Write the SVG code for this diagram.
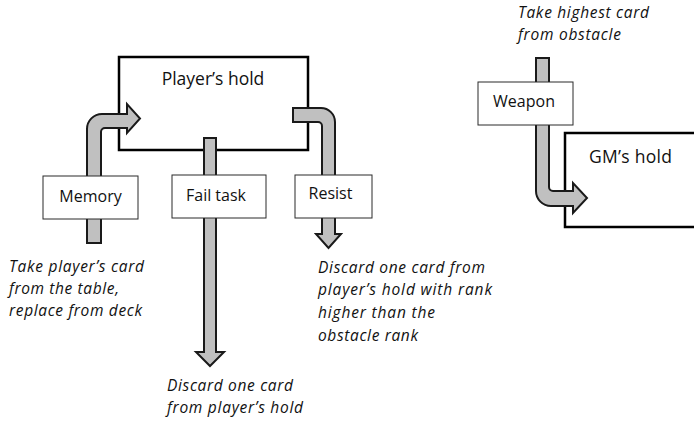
<svg xmlns="http://www.w3.org/2000/svg" width="694" height="422" viewBox="0 0 694 422">
  <style>
    .hold { fill: #ffffff; stroke: #000000; stroke-width: 2.5; }
    .card { fill: #ffffff; stroke: #2b2b2b; stroke-width: 1; }
    .flow { fill: #c0c0c0; stroke: #1a1a1a; stroke-width: 2; stroke-linejoin: miter; }
    .label { font-family: "Open Sans", "Liberation Sans", sans-serif; font-size: 16px; fill: #111111; }
    .title { font-family: "Open Sans", "Liberation Sans", sans-serif; font-size: 17.5px; fill: #111111; }
    .note { font-family: "Open Sans", "Liberation Sans", sans-serif; font-size: 15.5px; font-style: italic; fill: #111111; }
  </style>

  <g id="players-hold">
    <rect class="hold" x="119" y="57" width="189" height="93"/>
    <text class="title" x="213" y="85" text-anchor="middle">Player’s hold</text>
  </g>

  <g id="gms-hold">
    <rect class="hold" x="565" y="133" width="140" height="94"/>
    <text class="title" x="589" y="163" textLength="83">GM’s hold</text>
  </g>

  <g id="connectors">
    <!-- Memory: up from the table, bending right into the player's hold -->
    <path class="flow" d="M87,243 V129 A15,15 0 0 1 102,114 H127 V104 L140,118.5 L127,133 V128 H105 A4,4 0 0 0 101,132 V243 Z"/>
    <!-- Fail task: straight down out of the player's hold -->
    <path class="flow" d="M204,138 H216 V352 H224 L210,366 L196,352 H204 Z"/>
    <!-- Resist: out of the player's hold, bending down -->
    <path class="flow" d="M293,108 H321 A14,14 0 0 1 335,122 V234 H341 L328.5,248 L316,234 H322 V126 A4,4 0 0 0 318,122 H293 Z"/>
    <!-- Weapon: from the obstacle, down and right into the GM's hold -->
    <path class="flow" d="M536,58 H549 V187 A4,4 0 0 0 553,191 H573 V183 L587,198 L573,213 V206 H551 A15,15 0 0 1 536,191 Z"/>
  </g>

  <g id="memory">
    <rect class="card" x="43" y="176" width="95" height="43"/>
    <text class="label" x="90.5" y="202" text-anchor="middle">Memory</text>
  </g>

  <g id="fail-task">
    <rect class="card" x="172" y="175" width="94" height="43"/>
    <text class="label" x="216" y="201" text-anchor="middle">Fail task</text>
  </g>

  <g id="resist">
    <rect class="card" x="295" y="175" width="77" height="43"/>
    <text class="label" x="330.5" y="199" text-anchor="middle">Resist</text>
  </g>

  <g id="weapon">
    <rect class="card" x="478" y="82" width="95" height="43"/>
    <text class="label" x="524" y="107" text-anchor="middle">Weapon</text>
  </g>

  <g id="notes">
    <text class="note" x="9" y="272" textLength="135">Take player’s card</text>
    <text class="note" x="9" y="294" textLength="110">from the table,</text>
    <text class="note" x="9" y="316" textLength="133">replace from deck</text>

    <text class="note" x="167" y="391" textLength="126">Discard one card</text>
    <text class="note" x="167" y="413" textLength="136">from player’s hold</text>

    <text class="note" x="318" y="273" textLength="167">Discard one card from</text>
    <text class="note" x="318" y="295" textLength="174">player’s hold with rank</text>
    <text class="note" x="318" y="318" textLength="117">higher than the</text>
    <text class="note" x="318" y="341" textLength="100">obstacle rank</text>

    <text class="note" x="518" y="18" textLength="131">Take highest card</text>
    <text class="note" x="518" y="40" textLength="103">from obstacle</text>
  </g>
</svg>
